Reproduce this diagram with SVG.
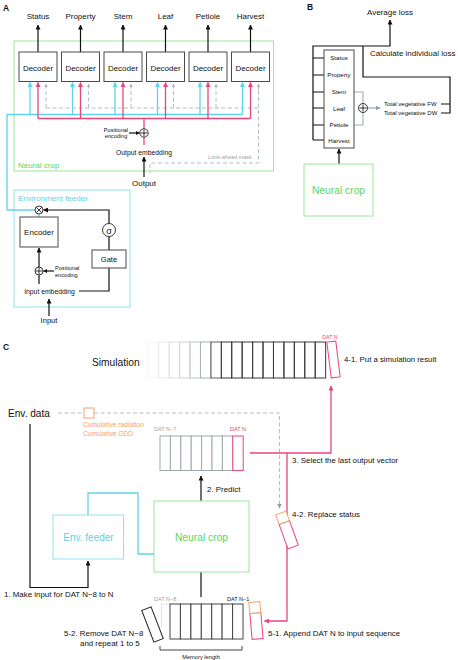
<svg xmlns="http://www.w3.org/2000/svg" width="458" height="660" viewBox="0 0 458 660">
<style>
text{font-family:"Liberation Sans",Arial,sans-serif;fill:#111}
.box{fill:#fff;stroke:#4a4a4a;stroke-width:1}
.dec{font-size:8px;text-anchor:middle}
.lbl8{font-size:8px}
.mid{text-anchor:middle}
.blk{fill:none;stroke:#111;stroke-width:1.2}
.cy{fill:none;stroke:#5fd3ea;stroke-width:1.3}
.pk{fill:none;stroke:#e8457f;stroke-width:1.3}
.gd{fill:none;stroke:#b4bec2;stroke-width:1;stroke-dasharray:4 2.5}
.gfr{fill:none;stroke:#99ea99;stroke-width:1}
.cfr{fill:none;stroke:#90e2ef;stroke-width:1}
.gtxt{fill:#5cd65c}
.ctxt{fill:#5fd0e6}
.otxt{fill:#f4a36c}
.ptxt{fill:#e8457f}
.grtxt{fill:#9aa4a8}
.sym{fill:#fff;stroke:#222;stroke-width:0.9}
.title{font-size:8.5px;font-weight:bold}
</style>
<defs>
<marker id="ab" viewBox="0 0 10 10" refX="9" refY="5" markerWidth="5" markerHeight="5" markerUnits="userSpaceOnUse" orient="auto"><path d="M0,0 L10,5 L0,10 z" fill="#111"/></marker>
<marker id="abs" viewBox="0 0 10 10" refX="9" refY="5" markerWidth="4" markerHeight="4" markerUnits="userSpaceOnUse" orient="auto"><path d="M0,0 L10,5 L0,10 z" fill="#111"/></marker>
<marker id="ac" viewBox="0 0 10 10" refX="9" refY="5" markerWidth="5" markerHeight="5" markerUnits="userSpaceOnUse" orient="auto"><path d="M0,0 L10,5 L0,10 z" fill="#5fd3ea"/></marker>
<marker id="ap" viewBox="0 0 10 10" refX="9" refY="5" markerWidth="5" markerHeight="5" markerUnits="userSpaceOnUse" orient="auto"><path d="M0,0 L10,5 L0,10 z" fill="#e8457f"/></marker>
<marker id="ag" viewBox="0 0 10 10" refX="9" refY="5" markerWidth="3.5" markerHeight="3.5" markerUnits="userSpaceOnUse" orient="auto"><path d="M0,0 L10,5 L0,10 z" fill="#aab4b8"/></marker>
<marker id="ag2" viewBox="0 0 10 10" refX="9" refY="5" markerWidth="5" markerHeight="5" markerUnits="userSpaceOnUse" orient="auto"><path d="M0,0 L10,5 L0,10 z" fill="#8fa0a6"/></marker>
</defs>

<!-- ================= PANEL A ================= -->
<text class="title" x="3" y="11">A</text>

<g id="neural-crop-frame-A">
<rect class="gfr" x="14" y="41" width="259.5" height="130"/>
<text class="gtxt" x="18" y="168" font-size="8">Neural crop</text>
</g>

<g id="env-feeder-frame-A">
<rect class="cfr" x="14" y="190" width="116" height="117"/>
<text class="ctxt" x="18" y="201" font-size="8">Environment feeder</text>
</g>

<g id="connectors-A">
<!-- outputs -->
<path class="blk" d="M38,52 V25" marker-end="url(#ab)"/>
<path class="blk" d="M80.5,52 V25" marker-end="url(#ab)"/>
<path class="blk" d="M123,52 V25" marker-end="url(#ab)"/>
<path class="blk" d="M165.5,52 V25" marker-end="url(#ab)"/>
<path class="blk" d="M208,52 V25" marker-end="url(#ab)"/>
<path class="blk" d="M250.5,52 V25" marker-end="url(#ab)"/>
<!-- gray dashed look-ahead -->
<path class="gd" d="M46,108 H258.5 M258.5,84 V163 H150 V173"/>
<path class="gd" d="M46,108 V84" marker-end="url(#ag)"/>
<path class="gd" d="M88.5,108 V84" marker-end="url(#ag)"/>
<path class="gd" d="M131,108 V84" marker-end="url(#ag)"/>
<path class="gd" d="M173.5,108 V84" marker-end="url(#ag)"/>
<path class="gd" d="M216,108 V84" marker-end="url(#ag)"/>
<path class="gd" d="M258.5,90 V84" marker-end="url(#ag)"/>
<!-- cyan -->
<path class="cy" d="M35,210 H7 V114.5 H242.5"/>
<path class="cy" d="M30,114.5 V82.5" marker-end="url(#ac)"/>
<path class="cy" d="M72.5,114.5 V82.5" marker-end="url(#ac)"/>
<path class="cy" d="M115,114.5 V82.5" marker-end="url(#ac)"/>
<path class="cy" d="M157.5,114.5 V82.5" marker-end="url(#ac)"/>
<path class="cy" d="M200,114.5 V82.5" marker-end="url(#ac)"/>
<path class="cy" d="M242.5,114.5 V82.5" marker-end="url(#ac)"/>
<path class="cy" d="M39,214 V217"/>
<!-- pink -->
<path class="pk" d="M38,118.5 H250.5 M144,118.5 V145"/>
<path class="pk" d="M38,118.5 V82.5" marker-end="url(#ap)"/>
<path class="pk" d="M80.5,118.5 V82.5" marker-end="url(#ap)"/>
<path class="pk" d="M123,118.5 V82.5" marker-end="url(#ap)"/>
<path class="pk" d="M165.5,118.5 V82.5" marker-end="url(#ap)"/>
<path class="pk" d="M208,118.5 V82.5" marker-end="url(#ap)"/>
<path class="pk" d="M250.5,118.5 V82.5" marker-end="url(#ap)"/>
<!-- positional encoding arrow (decoder side) -->
<path class="blk" d="M129,133 H139.5" stroke-width="0.9" marker-end="url(#abs)"/>
<!-- output arrow -->
<path class="blk" d="M144,177 V157" stroke-width="1.5" marker-end="url(#ab)"/>
<!-- env feeder internal -->
<path class="blk" d="M39,267 V248" marker-end="url(#ab)"/>
<path class="blk" d="M39,275 V284"/>
<path class="blk" d="M54,271 H43.5" stroke-width="0.9" marker-end="url(#abs)"/>
<path class="blk" d="M79,291 H109 V268"/>
<path class="blk" d="M109,250 V236.5"/>
<path class="blk" d="M109,223.5 V210 H43.5" marker-end="url(#ab)"/>
<path class="blk" d="M49,316 V299" marker-end="url(#ab)"/>
</g>

<g id="output-labels-A" class="dec">
<text x="38" y="19">Status</text>
<text x="80.5" y="19">Property</text>
<text x="123" y="19">Stem</text>
<text x="165.5" y="19">Leaf</text>
<text x="208" y="19">Petiole</text>
<text x="250.5" y="19">Harvest</text>
</g>

<g id="decoder-1"><rect class="box" x="19" y="52" width="38" height="29.5"/><text class="dec" x="38" y="71">Decoder</text></g>
<g id="decoder-2"><rect class="box" x="61.5" y="52" width="38" height="29.5"/><text class="dec" x="80.5" y="71">Decoder</text></g>
<g id="decoder-3"><rect class="box" x="104" y="52" width="38" height="29.5"/><text class="dec" x="123" y="71">Decoder</text></g>
<g id="decoder-4"><rect class="box" x="146.5" y="52" width="38" height="29.5"/><text class="dec" x="165.5" y="71">Decoder</text></g>
<g id="decoder-5"><rect class="box" x="189" y="52" width="38" height="29.5"/><text class="dec" x="208" y="71">Decoder</text></g>
<g id="decoder-6"><rect class="box" x="231.5" y="52" width="38" height="29.5"/><text class="dec" x="250.5" y="71">Decoder</text></g>

<g id="pos-enc-out">
<circle class="sym" cx="144" cy="133" r="4.2"/>
<path d="M140.5,133 H147.5 M144,129.5 V136.5" stroke="#222" stroke-width="0.9"/>
<text x="116" y="131.5" font-size="5.6" text-anchor="middle">Positional</text>
<text x="116" y="138" font-size="5.6" text-anchor="middle">encoding</text>
</g>
<g id="output-embedding"><text x="144" y="154.5" font-size="6.8" text-anchor="middle">Output embedding</text></g>
<g id="lookahead-label"><text class="grtxt" x="208" y="159" font-size="5.5">Look-ahead mask</text></g>
<g id="output-label"><text x="144" y="185.5" font-size="8" text-anchor="middle">Output</text></g>

<g id="mult-env">
<circle class="sym" cx="39" cy="210" r="4"/>
<path d="M36.3,207.3 L41.7,212.7 M41.7,207.3 L36.3,212.7" stroke="#222" stroke-width="0.9"/>
</g>
<g id="encoder"><rect class="box" x="20" y="217" width="38" height="30"/><text class="dec" x="39" y="235">Encoder</text></g>
<g id="sigma"><circle class="sym" cx="109" cy="230" r="6.5"/><text x="109" y="233.5" font-size="9" text-anchor="middle">σ</text></g>
<g id="gate"><rect class="box" x="92" y="250" width="34" height="18"/><text x="109" y="262" font-size="7.5" text-anchor="middle">Gate</text></g>
<g id="pos-enc-in">
<circle class="sym" cx="39" cy="271" r="4"/>
<path d="M35.5,271 H42.5 M39,267.5 V274.5" stroke="#222" stroke-width="0.9"/>
<text x="55" y="269.5" font-size="5.6">Positional</text>
<text x="55" y="276.5" font-size="5.6">encoding</text>
</g>
<g id="input-embedding"><text x="49.5" y="294" font-size="6.8" text-anchor="middle">Input embedding</text></g>
<g id="input-label"><text x="49" y="322.5" font-size="7.6" text-anchor="middle">Input</text></g>

<!-- ================= PANEL B ================= -->
<text class="title" x="307" y="10">B</text>
<g id="connectors-B">
<path class="blk" d="M313,140 V46 H390 V20" stroke-width="1.5" marker-end="url(#ab)"/>
<path class="blk" d="M363,46 V77 H450 V113 H441 M441,104 H450" stroke-width="1.5"/>
<path class="blk" d="M313,58 H324 M313,75 H324 M313,92 H324 M313,108 H324 M313,125 H324 M313,140 H324" stroke-width="1.5"/>
<path d="M354,92 H363 V125 H354" fill="none" stroke="#9fb0b5" stroke-width="1.1"/>
<path d="M367.5,108 H380" fill="none" stroke="#8fa0a6" stroke-width="1.1" marker-end="url(#ag2)"/>
<path class="blk" d="M339,164 V149" stroke-width="1.5" marker-end="url(#ab)"/>
</g>
<g id="average-loss"><text x="390" y="15" font-size="8" text-anchor="middle">Average loss</text></g>
<g id="individual-loss"><text x="370" y="56" font-size="8">Calculate individual loss</text></g>
<g id="output-stack-B">
<rect class="box" x="324" y="50" width="30" height="98"/>
<g font-size="6.2" text-anchor="middle">
<text x="339" y="60">Status</text>
<text x="339" y="77">Property</text>
<text x="339" y="94">Stem</text>
<text x="339" y="110.5">Leaf</text>
<text x="339" y="127">Petiole</text>
<text x="339" y="143">Harvest</text>
</g>
</g>
<g id="sum-B">
<circle class="sym" cx="363" cy="108" r="4.5"/>
<path d="M359.5,108 H366.5 M363,104.5 V111.5" stroke="#222" stroke-width="0.9"/>
</g>
<g id="totals-B" font-size="6">
<text x="384" y="106">Total vegetative FW</text>
<text x="384" y="115">Total vegetative DW</text>
</g>
<g id="neural-crop-B">
<rect class="gfr" x="304" y="164" width="69" height="52"/>
<text class="gtxt" x="338.5" y="193.5" font-size="10.3" text-anchor="middle">Neural crop</text>
</g>

<!-- ================= PANEL C ================= -->
<text class="title" x="3" y="350">C</text>

<g id="simulation">
<text x="92" y="365.5" font-size="10.2">Simulation</text>
<g fill="none" stroke-width="1">
<rect x="148.3" y="342" width="10.43" height="36" stroke="#f3f5f5"/>
<rect x="158.7" y="342" width="10.43" height="36" stroke="#e9ecec"/>
<rect x="169.2" y="342" width="10.43" height="36" stroke="#dde1e1"/>
<rect x="179.6" y="342" width="10.43" height="36" stroke="#cfd4d4"/>
<rect x="190.0" y="342" width="10.43" height="36" stroke="#bfc5c5"/>
<rect x="200.5" y="342" width="10.43" height="36" stroke="#a9b0b0"/>
<rect x="210.9" y="342" width="10.43" height="36" stroke="#666"/>
<rect x="221.3" y="342" width="10.43" height="36" stroke="#3a3a3a"/>
<rect x="231.7" y="342" width="10.43" height="36" stroke="#3a3a3a"/>
<rect x="242.2" y="342" width="10.43" height="36" stroke="#3a3a3a"/>
<rect x="252.6" y="342" width="10.43" height="36" stroke="#3a3a3a"/>
<rect x="263.0" y="342" width="10.43" height="36" stroke="#3a3a3a"/>
<rect x="273.5" y="342" width="10.43" height="36" stroke="#3a3a3a"/>
<rect x="283.9" y="342" width="10.43" height="36" stroke="#3a3a3a"/>
<rect x="294.3" y="342" width="10.43" height="36" stroke="#3a3a3a"/>
<rect x="304.8" y="342" width="10.43" height="36" stroke="#3a3a3a"/>
<rect x="315.2" y="342" width="10.43" height="36" stroke="#3a3a3a"/>
</g>
</g>
<g id="sim-dat-n">
<rect x="-4.5" y="-18" width="9" height="36" fill="#fff" stroke="#e8457f" stroke-width="1" transform="translate(333.5,359.5) rotate(-7)"/>
<text class="ptxt" x="330" y="338.5" font-size="5.3" text-anchor="middle">DAT N</text>
</g>
<g id="step-4-1"><text x="344" y="361.5" font-size="7.8">4-1. Put a simulation result</text></g>

<g id="env-data">
<text x="8" y="417" font-size="10.1">Env. data</text>
</g>
<g id="cumulative">
<rect x="84" y="408" width="10" height="10" fill="#fff" stroke="#f4a36c" stroke-width="1"/>
<text class="otxt" x="83" y="427" font-size="6.7">Cumulative radiation</text>
<text class="otxt" x="83" y="435.5" font-size="6.7">Cumulative GDD</text>
</g>

<g id="connectors-C">
<path class="gd" d="M58,413 H84 M94,413 H279.5 V508" stroke="#a9b4b8" marker-end="url(#ag2)"/>
<path class="blk" d="M30,424 V587.5 H88 V561" stroke-width="1.5" marker-end="url(#ab)"/>
<path class="cy" d="M88,515 V493 H138 V554 H154"/>
<path class="blk" d="M201,501 V476" stroke-width="1.5" marker-end="url(#ab)"/>
<path class="blk" d="M201,572 V597" stroke-width="1.3"/>
<path class="pk" d="M250,453 H331 V386" marker-end="url(#ap)"/>
<path class="pk" d="M287,453 V621 H264.5" marker-end="url(#ap)"/>
<path d="M170,604 H161.5 V628" fill="none" stroke="#b9c9cd" stroke-width="1" stroke-dasharray="1.2 1.5"/>
<path d="M160,646 V650 H242 V646" fill="none" stroke="#444" stroke-width="1"/>
</g>

<g id="output-seq">
<text class="grtxt" x="154" y="431" font-size="5.5">DAT N−7</text>
<text class="ptxt" x="230" y="431" font-size="5.5">DAT N</text>
<g fill="#fff" stroke="#9ea8ac" stroke-width="1">
<rect x="160" y="436" width="10.4" height="34.5"/>
<rect x="170.4" y="436" width="10.4" height="34.5"/>
<rect x="180.8" y="436" width="10.4" height="34.5"/>
<rect x="191.2" y="436" width="10.4" height="34.5"/>
<rect x="201.6" y="436" width="10.4" height="34.5"/>
<rect x="212" y="436" width="10.4" height="34.5"/>
<rect x="222.4" y="436" width="10.4" height="34.5"/>
</g>
<rect x="232.8" y="436" width="10.4" height="34.5" fill="#fff" stroke="#e8457f" stroke-width="1"/>
</g>
<g id="step-3"><text x="292" y="463" font-size="7.9">3. Select the last output vector</text></g>
<g id="step-2"><text x="207" y="491.5" font-size="7.9">2. Predict</text></g>

<g id="replace-status">
<g transform="translate(287,530) rotate(-20)">
<rect x="-5.5" y="-8" width="11" height="26" fill="#fff" stroke="#e8457f" stroke-width="1"/>
<rect x="-5.5" y="-18" width="11" height="10" fill="#fff" stroke="#f4a36c" stroke-width="1"/>
</g>
<text x="292" y="516.5" font-size="7.9">4-2. Replace status</text>
</g>

<g id="env-feeder-C">
<rect class="cfr" x="53" y="515" width="70.5" height="44"/>
<text class="ctxt" x="88.5" y="540.5" font-size="10" text-anchor="middle">Env. feeder</text>
</g>
<g id="neural-crop-C">
<rect class="gfr" x="154" y="501" width="95" height="71"/>
<text class="gtxt" x="201.5" y="541" font-size="10.3" text-anchor="middle">Neural crop</text>
</g>
<g id="step-1"><text x="4" y="597" font-size="7.9">1. Make input for DAT N−8 to N</text></g>

<g id="memory-seq">
<text class="grtxt" x="154" y="601" font-size="5.5" fill="#555">DAT N−8</text>
<text x="227" y="601" font-size="5.5" fill="#333">DAT N−1</text>
<g fill="#fff" stroke="#444" stroke-width="1">
<rect x="170" y="604" width="10.43" height="35"/>
<rect x="180.4" y="604" width="10.43" height="35"/>
<rect x="190.9" y="604" width="10.43" height="35"/>
<rect x="201.3" y="604" width="10.43" height="35"/>
<rect x="211.7" y="604" width="10.43" height="35"/>
<rect x="222.1" y="604" width="10.43" height="35"/>
<rect x="232.6" y="604" width="10.43" height="35"/>
</g>
<text x="201" y="658.5" font-size="5.7" text-anchor="middle">Memory length</text>
</g>
<g id="removed-cell">
<rect x="-5" y="-17" width="10" height="34" fill="#fff" stroke="#222" stroke-width="1" transform="translate(152.5,624.5) rotate(-21)"/>
</g>
<g id="appended-cell">
<g transform="translate(256,620.5) rotate(-5)">
<rect x="-5.5" y="-7.5" width="11" height="26" fill="#fff" stroke="#e8457f" stroke-width="1"/>
<rect x="-5.5" y="-18.5" width="11" height="11" fill="#fff" stroke="#f4a36c" stroke-width="1"/>
</g>
</g>
<g id="step-5-1"><text x="268" y="636" font-size="7.9">5-1. Append DAT N to input sequence</text></g>
<g id="step-5-2">
<text x="64" y="635.5" font-size="7.9">5-2. Remove DAT N−8</text>
<text x="80" y="645.5" font-size="7.9">and repeat 1 to 5</text>
</g>
</svg>
